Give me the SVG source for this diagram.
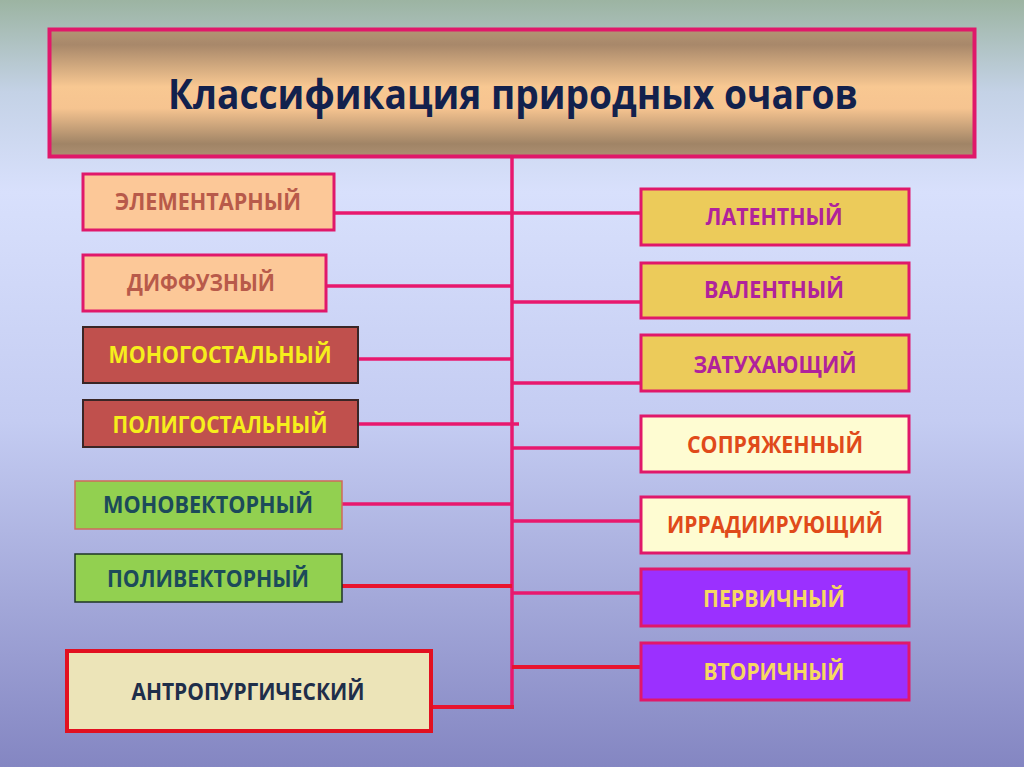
<svg xmlns="http://www.w3.org/2000/svg" width="1024" height="767" viewBox="0 0 1024 767">
  <defs>
    <linearGradient id="bg" x1="0" y1="0" x2="0" y2="1">
      <stop offset="0" stop-color="#9cb4a2"/>
      <stop offset="0.12" stop-color="#c4d2e6"/>
      <stop offset="0.25" stop-color="#d8e0fc"/>
      <stop offset="0.55" stop-color="#c4ccf2"/>
      <stop offset="1" stop-color="#8486c2"/>
    </linearGradient>
    <linearGradient id="title" x1="0" y1="0" x2="0" y2="1">
      <stop offset="0" stop-color="#b49474"/>
      <stop offset="0.12" stop-color="#a8886a"/>
      <stop offset="0.45" stop-color="#f8c892"/>
      <stop offset="0.62" stop-color="#f6c490"/>
      <stop offset="0.9" stop-color="#a08466"/>
      <stop offset="1" stop-color="#ae9072"/>
    </linearGradient>
    <style>
      .lbl { font-family: "Open Sans", "Liberation Sans", sans-serif; font-weight: bold; font-size: 23px; text-anchor: middle; }
      .conn { stroke: #e8186e; stroke-width: 3.5; fill: none; }
      .connR { stroke: #e8142e; stroke-width: 4; fill: none; }
      .peach { fill: #fcc898; stroke: #e0186a; stroke-width: 3; }
      .brick { fill: #c0504d; stroke: #3a2626; stroke-width: 2; }
      .green { fill: #92d050; }
      .gold { fill: #eccb5a; stroke: #e0186a; stroke-width: 3; }
      .cream { fill: #fefcd2; stroke: #e0186a; stroke-width: 3; }
      .violet { fill: #9b30ff; stroke: #e0186a; stroke-width: 3; }
    </style>
  </defs>
  <rect x="0" y="0" width="1024" height="767" fill="url(#bg)"/>

  <g id="connectors">
    <line class="conn" x1="512" y1="157" x2="512" y2="707"/>
    <line class="conn" x1="334" y1="213" x2="641" y2="213"/>
    <line class="conn" x1="326" y1="286" x2="512" y2="286"/>
    <line class="conn" x1="512" y1="302" x2="641" y2="302"/>
    <line class="conn" x1="358" y1="359" x2="512" y2="359"/>
    <line class="conn" x1="512" y1="383" x2="641" y2="383"/>
    <line class="conn" x1="358" y1="424" x2="519" y2="424"/>
    <line class="conn" x1="512" y1="448" x2="641" y2="448"/>
    <line class="conn" x1="342" y1="504" x2="512" y2="504"/>
    <line class="conn" x1="512" y1="521" x2="641" y2="521"/>
    <line class="connR" x1="342" y1="586" x2="512" y2="586"/>
    <line class="conn" x1="512" y1="593" x2="641" y2="593"/>
    <line class="connR" x1="512" y1="667" x2="641" y2="667"/>
    <line class="connR" x1="432" y1="707" x2="514" y2="707"/>
  </g>

  <g id="title-node">
    <rect x="49.5" y="29.5" width="925" height="127" fill="url(#title)" stroke="#e0186a" stroke-width="4"/>
    <text x="513" y="109" font-family="Open Sans, Liberation Sans, sans-serif" font-weight="bold" font-size="41" fill="#12214d" text-anchor="middle" textLength="690" lengthAdjust="spacingAndGlyphs">Классификация природных очагов</text>
  </g>

  <g id="n-elementarny">
    <rect class="peach" x="83" y="174" width="251" height="56"/>
    <text class="lbl" x="208" y="210" fill="#b85a4a" textLength="186" lengthAdjust="spacingAndGlyphs">ЭЛЕМЕНТАРНЫЙ</text>
  </g>
  <g id="n-diffuzny">
    <rect class="peach" x="83" y="255" width="243" height="56"/>
    <text class="lbl" x="201" y="291" fill="#b85a4a" textLength="148" lengthAdjust="spacingAndGlyphs">ДИФФУЗНЫЙ</text>
  </g>
  <g id="n-monogostalny">
    <rect class="brick" x="83" y="327" width="275" height="56"/>
    <text class="lbl" x="220" y="363" fill="#f6ee1c" textLength="223" lengthAdjust="spacingAndGlyphs">МОНОГОСТАЛЬНЫЙ</text>
  </g>
  <g id="n-poligostalny">
    <rect class="brick" x="83" y="400" width="275" height="47"/>
    <text class="lbl" x="220" y="433" fill="#f6ee1c" textLength="215" lengthAdjust="spacingAndGlyphs">ПОЛИГОСТАЛЬНЫЙ</text>
  </g>
  <g id="n-monovektorny">
    <rect class="green" x="75" y="481" width="267" height="48" stroke="#d06a5a" stroke-width="1.5"/>
    <text class="lbl" x="208" y="513" fill="#1c4a5a" textLength="210" lengthAdjust="spacingAndGlyphs">МОНОВЕКТОРНЫЙ</text>
  </g>
  <g id="n-polivektorny">
    <rect class="green" x="75" y="554" width="267" height="48" stroke="#1e3424" stroke-width="1.5"/>
    <text class="lbl" x="208" y="587" fill="#1c4a5a" textLength="202" lengthAdjust="spacingAndGlyphs">ПОЛИВЕКТОРНЫЙ</text>
  </g>
  <g id="n-antropurgichesky">
    <rect x="67" y="651" width="364" height="80" fill="#ece4b8" stroke="#e21020" stroke-width="4"/>
    <text class="lbl" x="248" y="700" fill="#1e2e4a" textLength="233" lengthAdjust="spacingAndGlyphs">АНТРОПУРГИЧЕСКИЙ</text>
  </g>

  <g id="n-latentny">
    <rect class="gold" x="641" y="189" width="268" height="56"/>
    <text class="lbl" x="774" y="225" fill="#b0229c" textLength="137" lengthAdjust="spacingAndGlyphs">ЛАТЕНТНЫЙ</text>
  </g>
  <g id="n-valentny">
    <rect class="gold" x="641" y="263" width="268" height="55"/>
    <text class="lbl" x="774" y="298" fill="#b0229c" textLength="140" lengthAdjust="spacingAndGlyphs">ВАЛЕНТНЫЙ</text>
  </g>
  <g id="n-zatukhayushchy">
    <rect class="gold" x="641" y="335" width="268" height="56"/>
    <text class="lbl" x="775" y="373" fill="#b0229c" textLength="163" lengthAdjust="spacingAndGlyphs">ЗАТУХАЮЩИЙ</text>
  </g>
  <g id="n-sopryazhenny">
    <rect class="cream" x="641" y="416" width="268" height="56"/>
    <text class="lbl" x="775" y="453" fill="#e04a1a" textLength="176" lengthAdjust="spacingAndGlyphs">СОПРЯЖЕННЫЙ</text>
  </g>
  <g id="n-irradiiruyushchy">
    <rect class="cream" x="641" y="497" width="268" height="56"/>
    <text class="lbl" x="775" y="533" fill="#e04a1a" textLength="216" lengthAdjust="spacingAndGlyphs">ИРРАДИИРУЮЩИЙ</text>
  </g>
  <g id="n-pervichny">
    <rect class="violet" x="641" y="569" width="268" height="57"/>
    <text class="lbl" x="774" y="607" fill="#f6d862" textLength="142" lengthAdjust="spacingAndGlyphs">ПЕРВИЧНЫЙ</text>
  </g>
  <g id="n-vtorichny">
    <rect class="violet" x="641" y="643" width="268" height="57"/>
    <text class="lbl" x="774" y="680" fill="#f6d862" textLength="141" lengthAdjust="spacingAndGlyphs">ВТОРИЧНЫЙ</text>
  </g>
</svg>
